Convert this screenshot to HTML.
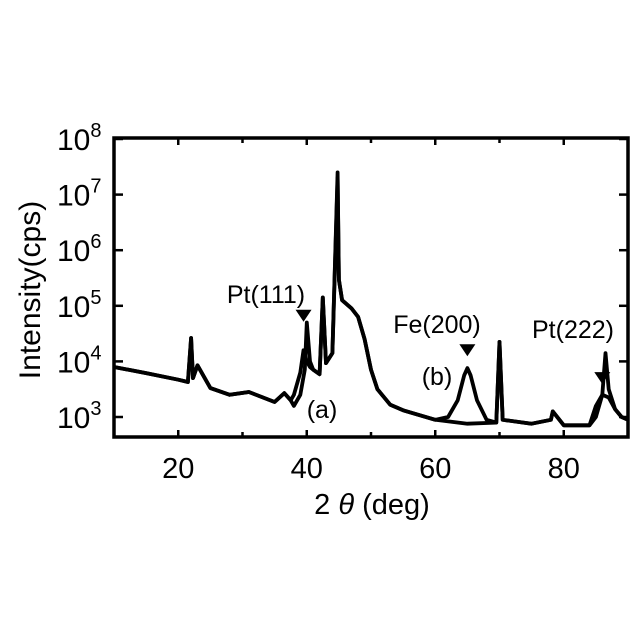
<!DOCTYPE html>
<html><head><meta charset="utf-8"><style>
html,body{margin:0;padding:0;background:#fff;}
svg{display:block;font-family:"Liberation Sans",sans-serif;}
</style></head><body>
<svg id="chart" width="640" height="640" viewBox="0 0 640 640">
<g id="axes"></g>
<g id="series"></g>
<g id="annot"></g>
</svg>
<script>
const xTicks = [20, 40, 60, 80];
const xMinor = [10, 30, 50, 70, 90];
const yDecades = [3, 4, 5, 6, 7, 8];
// series (a): [2theta, log10(intensity)]
const seriesAx = [10,15,20,21.5,22,22.3,23,25,28,31,35,36.5,37.5,38,39,39.7,40,40.5,41,42,42.5,43,44,44.8,45,45.5,47,48,49,50,51,53,55,60,65,69.5,70,70.5,75,78,78.3,80,84,85,86,86.5,87,88,89,90];
const seriesAy = [3.9,3.79,3.67,3.63,4.42,3.7,3.93,3.52,3.4,3.45,3.27,3.43,3.3,3.2,3.4,3.85,4.7,4.0,3.85,3.77,5.15,3.97,4.15,7.4,5.47,5.1,4.95,4.8,4.4,3.85,3.5,3.22,3.12,2.95,2.88,2.9,4.35,2.95,2.88,2.95,3.1,2.85,2.85,3.0,3.4,4.15,3.5,3.14,3.0,2.95];
// series (b)
const seriesBx = [10,15,20,21.5,22,22.3,23,25,28,31,35,36.5,37.5,38,39,39.5,40,40.5,41,42,42.5,43,44,44.8,45,45.5,47,48,49,50,51,53,55,60,62,63.5,64.5,65,65.5,66.5,68,69.5,70,70.5,75,78,78.3,80,84,85,86,87,88,89,90];
const seriesBy = [3.9,3.79,3.67,3.63,4.42,3.7,3.93,3.52,3.4,3.45,3.27,3.43,3.3,3.4,3.8,4.2,4.0,3.9,3.85,3.77,5.15,3.97,4.15,7.3,5.47,5.1,4.95,4.8,4.4,3.85,3.5,3.22,3.12,2.95,3.0,3.3,3.75,3.88,3.75,3.3,2.95,2.9,4.35,2.95,2.88,2.95,3.1,2.85,2.85,3.2,3.4,3.35,3.14,3.0,2.95];
const peakLabels = ["Pt(111)", "Fe(200)", "Pt(222)"];
const peakX = [39.5, 65, 86];
const peakLogY = [4.82, 4.2, 3.7];

const L=114,R=628,T=138,B=437;
const sx=v=>L+(v-10)/80*(R-L);
const sy=v=>417-(v-3)*55.6;
const NS="http://www.w3.org/2000/svg";
function mk(tag,attrs,parent,text){const e=document.createElementNS(NS,tag);for(const k in attrs)e.setAttribute(k,attrs[k]);if(text!==undefined)e.textContent=text;parent.appendChild(e);return e;}
const ax=document.getElementById('axes'),se=document.getElementById('series'),an=document.getElementById('annot');
let fr=mk('rect',{x:L,y:T,width:R-L,height:B-T,fill:'none',stroke:'#000','stroke-width':3.5},ax);


xTicks.concat(xMinor).forEach(v=>{
  const len=xTicks.includes(v)?7:5;
  let t1=mk('line',{x1:sx(v),x2:sx(v),y1:B,y2:B-len,stroke:'#000','stroke-width':2.5},ax);
  
  
  let t2=mk('line',{x1:sx(v),x2:sx(v),y1:T,y2:T+len,stroke:'#000','stroke-width':2.5},ax);
  
  
});
xTicks.forEach(v=>{
  let t=mk('text',{x:sx(v),y:478,'font-size':29,'text-anchor':'middle'},ax,String(v));
  
  
});
yDecades.forEach(d=>{
  const y=sy(d);
  let t1=mk('line',{x1:L,x2:L+9,y1:y,y2:y,stroke:'#000','stroke-width':2.5},ax);
  
  
  let t2=mk('line',{x1:R,x2:R-9,y1:y,y2:y,stroke:'#000','stroke-width':2.5},ax);
  
  
  let tx=mk('text',{x:57,y:y+11,'font-size':30},ax);
  
  
  mk('tspan',{},tx,'10');
  mk('tspan',{dy:-13,'font-size':20},tx,String(d));
});
let yt=mk('text',{x:0,y:0,'font-size':30,'text-anchor':'middle',transform:'translate(40,290) rotate(-90)'},ax,'Intensity(cps)');


let xt=mk('text',{x:372,y:514,'font-size':29,'text-anchor':'middle'},ax);


mk('tspan',{},xt,'2 ');
mk('tspan',{'font-style':'italic'},xt,'θ');
mk('tspan',{},xt,' (deg)');
function line(xs,ys,name){
  const d=xs.map((x,i)=>(i?'L':'M')+sx(x).toFixed(1)+','+Math.min(B,sy(ys[i])).toFixed(1)).join('');
  let p=mk('path',{d:d,fill:'none',stroke:'#000','stroke-width':3.8,'stroke-linejoin':'round'},se);
  
  
}
line(seriesBx,seriesBy,'series-b-line');
line(seriesAx,seriesAy,'series-a-line');
const lblPos=[[266,303],[437,333],[573,338]];
peakLabels.forEach((s,i)=>{
  const x=sx(peakX[i]),y=sy(peakLogY[i]);
  let tr=mk('path',{d:`M${x-8},${y-6}L${x+8},${y-6}L${x},${y+6}Z`,fill:'#000'},an);
  
  
  let t=mk('text',{x:lblPos[i][0],y:lblPos[i][1],'font-size':25,'text-anchor':'middle'},an,s);
  
  
});
let la=mk('text',{x:322,y:418,'font-size':25,'text-anchor':'middle'},an,'(a)');


let lb=mk('text',{x:437,y:385,'font-size':25,'text-anchor':'middle'},an,'(b)');


</script>
</body></html>
